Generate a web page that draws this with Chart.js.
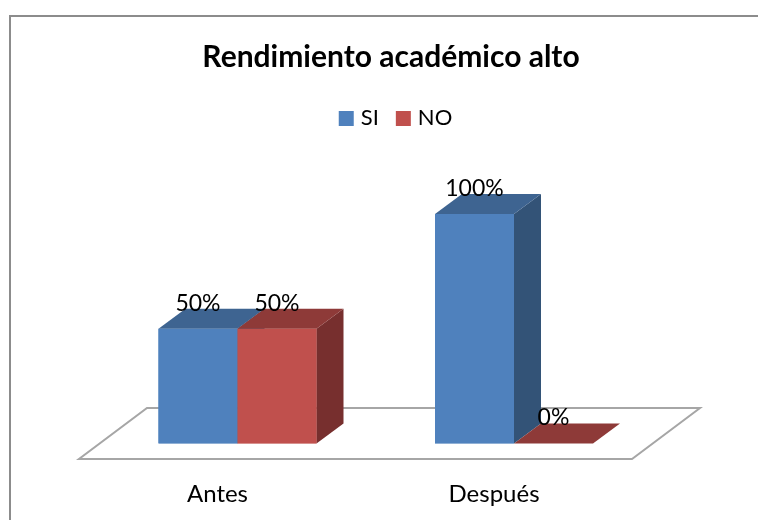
<!DOCTYPE html>
<html lang="es"><head><meta charset="utf-8">
<style>
html,body{margin:0;padding:0;background:#fff;width:758px;height:520px;overflow:hidden}
#frame{position:absolute;left:9px;top:15px;right:0;bottom:0;border-left:2px solid #8c8c8c;border-top:2px solid #8c8c8c;box-sizing:border-box}
#wrap{position:absolute;left:0;top:0;width:758px;height:520px}
</style>
<script src="https://cdn.jsdelivr.net/npm/chart.js@4"></script>
</head><body>
<div id="frame"></div>
<div id="wrap"><canvas id="c" width="758" height="520"></canvas></div>
<script>
const titleText = 'Rendimiento académico alto';
const categories = ['Antes', 'Después'];
const seriesSI = [0.5, 1];
const seriesNO = [0.5, 0];
const FONT = 'Lato, Carlito, "Open Sans", sans-serif';

const faces = [
  {front:'#4F81BD', top:'#3E6491', side:'#335377'},
  {front:'#C0504D', top:'#8E3A38', side:'#772F2E'}
];
const depth = {x:27, y:20};
const pct = v => Math.round(v*100) + '%';

function poly(ctx, pts, fill){
  ctx.beginPath();
  pts.forEach((p,i)=> i ? ctx.lineTo(p[0],p[1]) : ctx.moveTo(p[0],p[1]));
  ctx.closePath();
  ctx.fillStyle = fill;
  ctx.fill();
}

const bars3d = {
  id:'bars3d',
  afterLayout(chart){
    chart.legend.left += 6.5;
    chart.legend.right += 6.5;
  },
  beforeDatasetsDraw(chart){
    const {ctx, chartArea:a, scales} = chart;
    const b = scales.y.getPixelForValue(0);
    const fx = 20.25, fy = 15.5;
    const pts = [
      [a.left-fx, b+fy],
      [a.right-fx, b+fy],
      [a.right-fx+68, b+fy-51],
      [a.left-fx+68, b+fy-51]
    ];
    ctx.save();
    ctx.beginPath();
    pts.forEach((p,i)=> i ? ctx.lineTo(p[0],p[1]) : ctx.moveTo(p[0],p[1]));
    ctx.closePath();
    ctx.strokeStyle = '#a6a6a6';
    ctx.lineWidth = 2;
    ctx.stroke();
    ctx.restore();
  },
  afterDatasetsDraw(chart){
    const {ctx} = chart;
    ctx.save();
    chart.data.datasets.forEach((ds, di)=>{
      chart.getDatasetMeta(di).data.forEach(bar=>{
        const l = bar.x - bar.width/2, r = bar.x + bar.width/2, t = bar.y, bt = bar.base;
        const f = faces[di];
        if (bt - t > 0.5) {
          poly(ctx, [[r,t],[r+depth.x,t-depth.y],[r+depth.x,bt-depth.y],[r,bt]], f.side);
        }
        poly(ctx, [[l,t],[l+depth.x,t-depth.y],[r+depth.x,t-depth.y],[r,t]], f.top);
        bar.draw(ctx);
      });
    });
    ctx.fillStyle = '#000';
    ctx.font = '23px ' + FONT;
    ctx.textAlign = 'center';
    ctx.textBaseline = 'middle';
    chart.data.datasets.forEach((ds, di)=>{
      chart.getDatasetMeta(di).data.forEach((bar,i)=>{
        ctx.fillText(pct(ds.data[i]), bar.x, bar.y - 25.5);
      });
    });
    ctx.restore();
  }
};

new Chart(document.getElementById('c'), {
  type:'bar',
  data:{
    labels:categories,
    datasets:[
      {label:'SI', data:seriesSI, backgroundColor:faces[0].front, borderWidth:0},
      {label:'NO', data:seriesNO, backgroundColor:faces[1].front, borderWidth:0}
    ]
  },
  options:{
    responsive:false,
    animation:false,
    layout:{padding:{left:24,right:0,top:0,bottom:0}},
    datasets:{bar:{categoryPercentage:158/276.5, barPercentage:1}},
    plugins:{
      tooltip:{enabled:false},
      title:{display:true,text:titleText,color:'#000',font:{family:FONT,size:30,weight:'bold',lineHeight:1.2},padding:{top:39,bottom:11.4}},
      legend:{display:true,position:'top',labels:{
        font:{family:FONT,size:22},color:'#000',boxWidth:7,boxHeight:7,padding:21,
        generateLabels(chart){
          return chart.data.datasets.map((ds,i)=>({
            text:ds.label, fillStyle:faces[i].front, strokeStyle:faces[i].front,
            lineWidth:8, lineJoin:'miter', hidden:false, datasetIndex:i, fontColor:'#000'
          }));
        }
      }}
    },
    scales:{
      x:{
        grid:{display:false},border:{display:false},
        ticks:{color:'#000',font:{family:FONT,size:24},labelOffset:-20,padding:28,maxRotation:0},
        afterFit(s){s.height=76.5;}
      },
      y:{
        min:0,max:1.325,display:true,
        grid:{display:false},border:{display:false},
        ticks:{display:false},
        afterFit(s){s.width=75.25;}
      },
      yR:{
        position:'right',min:0,max:1,display:true,
        grid:{display:false},border:{display:false},
        ticks:{display:false},
        afterFit(s){s.width=105.75;}
      }
    }
  },
  plugins:[bars3d]
});
</script>
</body></html>
